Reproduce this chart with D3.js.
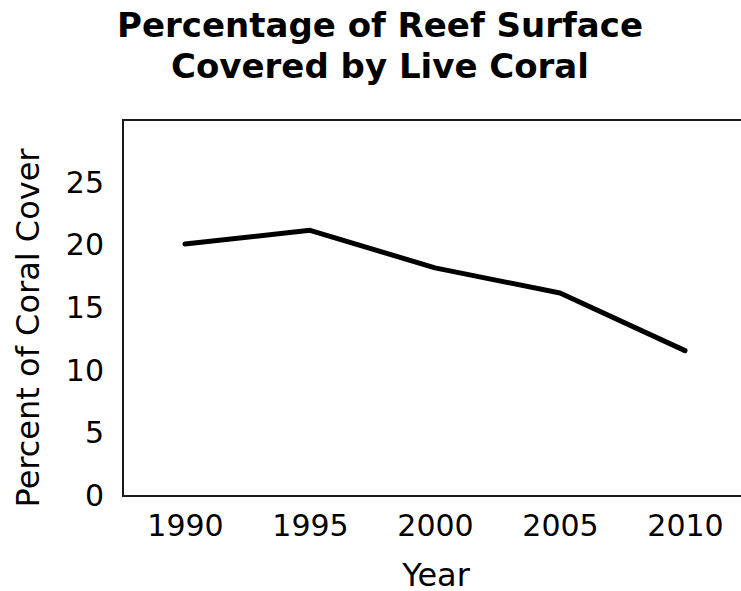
<!DOCTYPE html>
<html>
<head>
<meta charset="utf-8">
<script src="https://cdn.jsdelivr.net/npm/d3@7"></script>
<style>
  html, body { margin: 0; padding: 0; background: #fff; }
  svg { display: block; }
  text { font-family: "DejaVu Sans", Verdana, sans-serif; fill: #000; }
</style>
</head>
<body>
<svg id="chart" width="741" height="591"></svg>
<script>
// Live coral cover by survey year
const years = [1990, 1995, 2000, 2005, 2010];
const coverPercent = [20.1, 21.2, 18.2, 16.2, 11.6];
const yTickValues = [0, 5, 10, 15, 20, 25];
const titleLines = ["Percentage of Reef Surface", "Covered by Live Coral"];

const plot = { left: 123, right: 760, top: 120, bottom: 496 };

const svg = d3.select("#chart");

const x = d3.scaleLinear().domain([1990, 2010]).range([185, 685]);
const y = d3.scaleLinear().domain([0, 30]).range([plot.bottom, plot.top]);

// Title
svg.append("text")
  .attr("text-anchor", "middle")
  .style("font-weight", "bold")
  .style("font-size", "34px")
  .selectAll("tspan")
  .data(titleLines)
  .join("tspan")
  .attr("x", 380)
  .attr("y", (d, i) => 37 + i * 41)
  .text(d => d);

// Frame: left, top and bottom edges (right edge runs off the page)
svg.append("path")
  .attr("d", `M${plot.right},${plot.top}H${plot.left}V${plot.bottom}H${plot.right}`)
  .attr("fill", "none")
  .attr("stroke", "#1a1a1a")
  .attr("stroke-width", 2);

const tickFont = "30px";

// Y axis labels
const yAxis = d3.axisLeft(y).tickValues(yTickValues).tickSize(0).tickPadding(19).tickFormat(d3.format("d"));
const gy = svg.append("g").attr("transform", `translate(${plot.left},0)`).call(yAxis);
gy.select(".domain").remove();
gy.selectAll("text").style("font-size", tickFont).style("font-family", "'DejaVu Sans', Verdana, sans-serif").attr("fill", "#000");

// X axis labels
const xAxis = d3.axisBottom(x).tickValues(years).tickSize(0).tickPadding(19).tickFormat(d3.format("d"));
const gx = svg.append("g").attr("transform", `translate(0,${plot.bottom})`).call(xAxis);
gx.select(".domain").remove();
gx.selectAll("text").style("font-size", tickFont).style("font-family", "'DejaVu Sans', Verdana, sans-serif").attr("fill", "#000");

// Axis titles
svg.append("text")
  .attr("x", 436).attr("y", 586)
  .attr("text-anchor", "middle")
  .style("font-size", "32px")
  .text("Year");

svg.append("text")
  .attr("transform", `translate(39,328) rotate(-90)`)
  .attr("text-anchor", "middle")
  .style("font-size", "32px")
  .text("Percent of Coral Cover");

// Coral cover line
const line = d3.line()
  .x((d, i) => x(years[i]))
  .y(d => y(d));

svg.append("path")
  .datum(coverPercent)
  .attr("d", line)
  .attr("fill", "none")
  .attr("stroke", "#000")
  .attr("stroke-width", 5)
  .attr("stroke-linecap", "round")
  .attr("stroke-linejoin", "round");
</script>
</body>
</html>
